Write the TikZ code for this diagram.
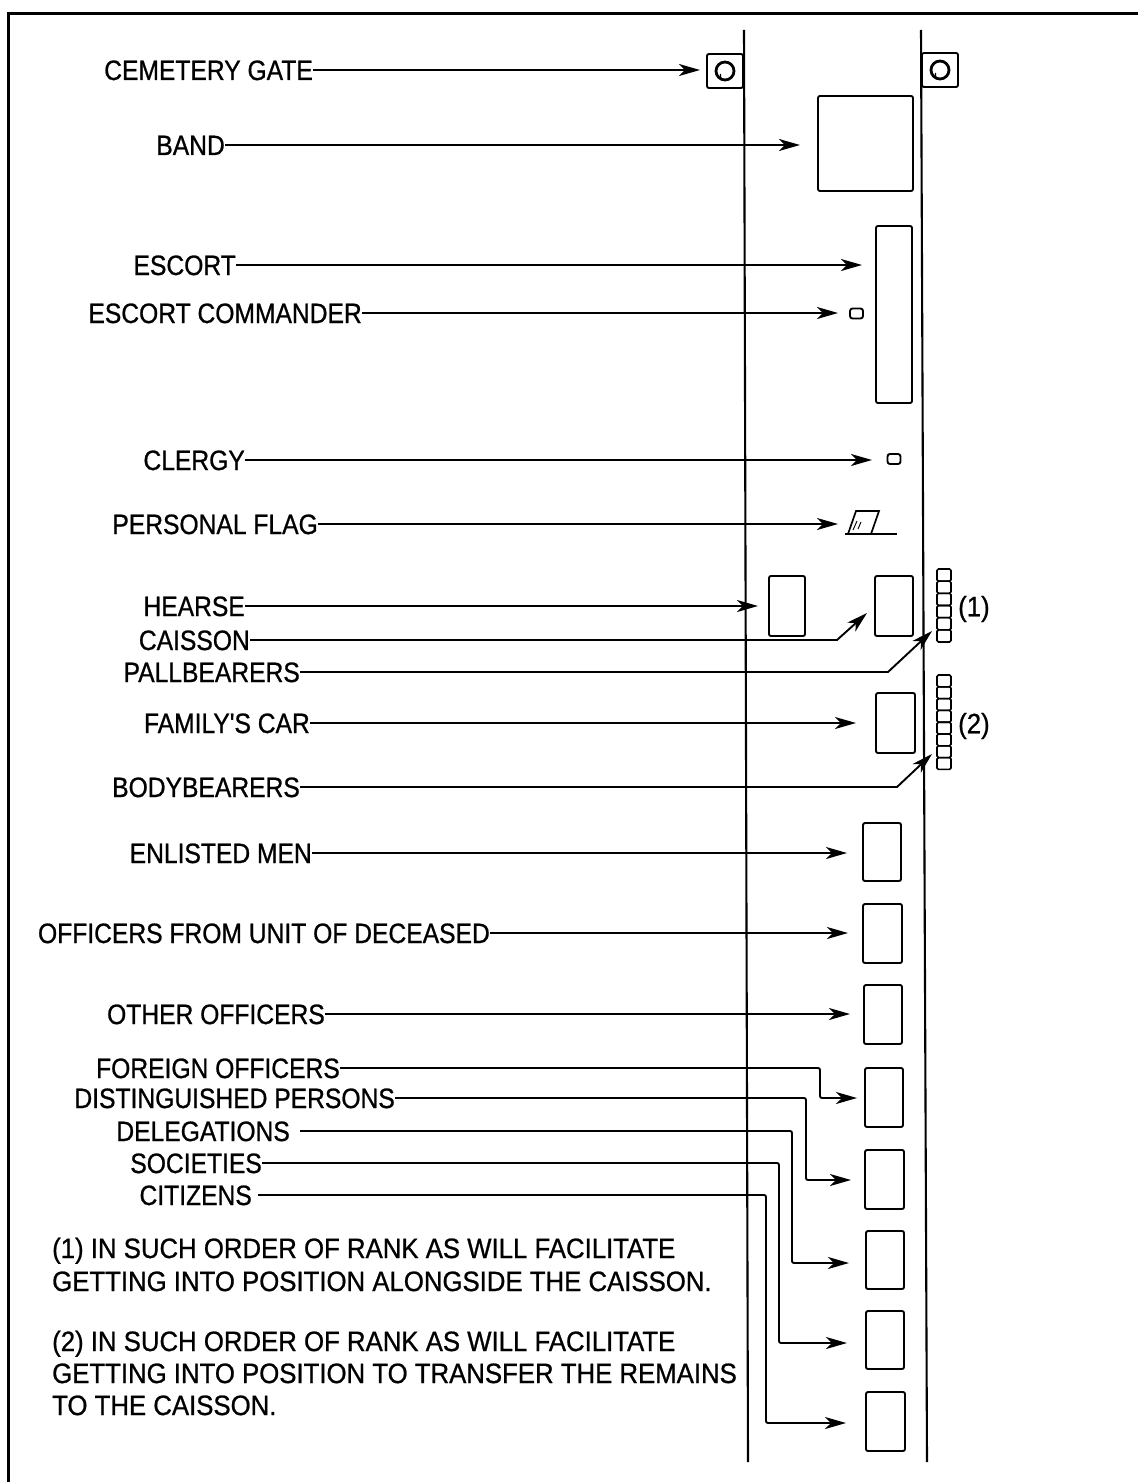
\documentclass[tikz,border=0pt]{standalone}
\usepackage{fontspec}
\setmainfont[FakeStretch=0.92,FakeBold=0.8]{Liberation Sans}
\newfontfamily\labfont[FakeStretch=0.88,FakeBold=0.8]{Liberation Sans}
\usetikzlibrary{arrows.meta,calc}
\tikzset{
  lab/.style={anchor=east,inner sep=0pt,text height=20pt,text depth=0pt,font=\labfont\fontsize{28}{32}\selectfont},
  notetext/.style={anchor=base west,inner sep=0pt,font=\fontsize{28}{32}\selectfont},
  conn/.style={line width=1.9pt,-{Stealth[length=21pt,width=12pt,inset=6pt]}},
  elbow/.style={conn,rounded corners=2pt},
  box/.style={draw,line width=1.9pt,rounded corners=2pt,inner sep=0pt},
  road/.style={line width=2.1pt},
  cell/.style={line width=1.6pt,rounded corners=1.5pt},
}
\begin{document}
\begin{tikzpicture}[x=1pt,y=-1pt]
\useasboundingbox (0,0) rectangle (1138,1482);
% frame
\draw[line width=3pt] (8,1482) -- (8,14) -- (1138,14);
% road edges
\draw[road] (744,30) -- (748,1462);
\draw[road] (921,30) -- (927,1462);

% cemetery gate posts
\node[box,minimum width=36pt,minimum height=34pt] (gateL) at (725,71) {};
\node[box,minimum width=36pt,minimum height=34pt] (gateR) at (940,70) {};
\draw[line width=2.8pt] (gateL.center) circle (9);
\draw[line width=2.8pt] (gateR.center) circle (9);
\draw[line width=1.4pt] ($(gateL.center)+(-4.5,3)$) arc (200:120:5);
\draw[line width=1.4pt] ($(gateR.center)+(-4.5,3)$) arc (200:120:5);

% units
\node[box,minimum width=95pt,minimum height=95pt] (band) at (865.5,143.5) {};
\node[box,minimum width=36pt,minimum height=177pt] (escort) at (894,314.5) {};
\node[box,minimum width=13pt,minimum height=10pt,rounded corners=2.5pt] (cmdr) at (856.5,313.5) {};
\node[box,minimum width=13pt,minimum height=10pt,rounded corners=2.5pt] (clergy) at (894,459) {};
\node[box,minimum width=36pt,minimum height=60pt] (hearse) at (787,606) {};
\node[box,minimum width=38pt,minimum height=60pt] (caisson) at (894,606) {};
\node[box,minimum width=39pt,minimum height=60pt] (famcar) at (895.5,723) {};
\node[box,minimum width=38pt,minimum height=58pt] (enl) at (882,852) {};
\node[box,minimum width=39pt,minimum height=59pt] (ofu) at (882.5,933.5) {};
\node[box,minimum width=38pt,minimum height=59pt] (oth) at (883,1014.5) {};
\node[box,minimum width=38pt,minimum height=59pt] (forb) at (884,1097.5) {};
\node[box,minimum width=39pt,minimum height=59pt] (disb) at (884.5,1179.5) {};
\node[box,minimum width=38pt,minimum height=58pt] (delb) at (885,1260) {};
\node[box,minimum width=38pt,minimum height=58pt] (socb) at (885,1340) {};
\node[box,minimum width=39pt,minimum height=59pt] (citb) at (885.5,1421.5) {};

% personal flag
\draw[line width=1.7pt] (856,511) -- (879,511) -- (871,534) -- (848,534) -- cycle;
\draw[line width=1.7pt] (845,534) -- (897,534);
\draw[line width=0.9pt] (853,530) -- (857,521) (858,529) -- (861,522);

% bearer columns
\foreach \i in {0,...,5} \draw[cell] (937,{569+\i*12.17}) rectangle ++(14,12.17);
\foreach \i in {0,...,7} \draw[cell] (937,{675+\i*11.8}) rectangle ++(14,11.8);
\node[anchor=west,inner sep=0pt,font=\fontsize{28}{32}\selectfont] (n1) at (958,609) {(1)};
\node[anchor=west,inner sep=0pt,font=\fontsize{28}{32}\selectfont] (n2) at (958,726) {(2)};

% labels
\node[lab] (lcg) at (313,70) {CEMETERY GATE};
\node[lab] (lband) at (225,145) {BAND};
\node[lab] (lesc) at (236,265) {ESCORT};
\node[lab] (lcmd) at (362,313) {ESCORT COMMANDER};
\node[lab] (lclg) at (245,460) {CLERGY};
\node[lab] (lflag) at (318,524) {PERSONAL FLAG};
\node[lab] (lhrs) at (245,606) {HEARSE};
\node[lab] (lcai) at (250,640) {CAISSON};
\node[lab] (lpal) at (300,672) {PALLBEARERS};
\node[lab] (lfam) at (310,723) {FAMILY'S CAR};
\node[lab] (lbb) at (300,787) {BODYBEARERS};
\node[lab] (lenl) at (312,853) {ENLISTED MEN};
\node[lab] (lofu) at (490,933) {OFFICERS FROM UNIT OF DECEASED};
\node[lab] (loth) at (325,1014) {OTHER OFFICERS};
\node[lab] (lfor) at (340,1068) {FOREIGN OFFICERS};
\node[lab] (ldis) at (395,1098) {DISTINGUISHED PERSONS};
\node[lab] (ldel) at (290,1131) {DELEGATIONS};
\node[lab] (lsoc) at (262,1163) {SOCIETIES};
\node[lab] (lcit) at (252,1195) {CITIZENS};

% arrow tips
\coordinate (tcg) at (700,70);
\coordinate (tband) at (800,145);
\coordinate (tesc) at (862,265);
\coordinate (tcmd) at (838,313);
\coordinate (tclg) at (872,460);
\coordinate (tflag) at (838,524);
\coordinate (thrs) at (758,606);
\coordinate (tcai) at (867,613);
\coordinate (tpal) at (932,631);
\coordinate (tfam) at (856,723);
\coordinate (tbb) at (932,754);
\coordinate (tenl) at (847,853);
\coordinate (tofu) at (848,933);
\coordinate (toth) at (850,1014);
\coordinate (tfor) at (857,1098);
\coordinate (tdis) at (851,1180);
\coordinate (tdel) at (849,1263);
\coordinate (tsoc) at (847,1343);
\coordinate (tcit) at (846,1423);

% connectors
\draw[conn] (lcg.east) -- (tcg);
\draw[conn] (lband.east) -- (tband);
\draw[conn] (lesc.east) -- (tesc);
\draw[conn] (lcmd.east) -- (tcmd);
\draw[conn] (lclg.east) -- (tclg);
\draw[conn] (lflag.east) -- (tflag);
\draw[conn] (lhrs.east) -- (thrs);
\draw[conn] (lcai.east) -- (837,640) -- (tcai);
\draw[conn] (lpal.east) -- (888,672) -- (tpal);
\draw[conn] (lfam.east) -- (tfam);
\draw[conn] (lbb.east) -- (897,787) -- (tbb);
\draw[conn] (lenl.east) -- (tenl);
\draw[conn] (lofu.east) -- (tofu);
\draw[conn] (loth.east) -- (toth);
\draw[elbow] (lfor.east) -- (820,1068) -- (820,1098) -- (tfor);
\draw[elbow] (ldis.east) -- (806,1098) -- (806,1180) -- (tdis);
\draw[elbow] ([xshift=10pt]ldel.east) -- (792,1131) -- (792,1263) -- (tdel);
\draw[elbow] (lsoc.east) -- (779,1163) -- (779,1343) -- (tsoc);
\draw[elbow] ([xshift=6pt]lcit.east) -- (766,1195) -- (766,1423) -- (tcit);

% notes
\node[notetext] (note1a) at (52,1258) {(1) IN SUCH ORDER OF RANK AS WILL FACILITATE};
\node[notetext] (note1b) at (52,1291) {GETTING INTO POSITION ALONGSIDE THE CAISSON.};
\node[notetext] (note2a) at (52,1351) {(2) IN SUCH ORDER OF RANK AS WILL FACILITATE};
\node[notetext] (note2b) at (52,1383) {GETTING INTO POSITION TO TRANSFER THE REMAINS};
\node[notetext] (note2c) at (52,1415) {TO THE CAISSON.};
\end{tikzpicture}
\end{document}
